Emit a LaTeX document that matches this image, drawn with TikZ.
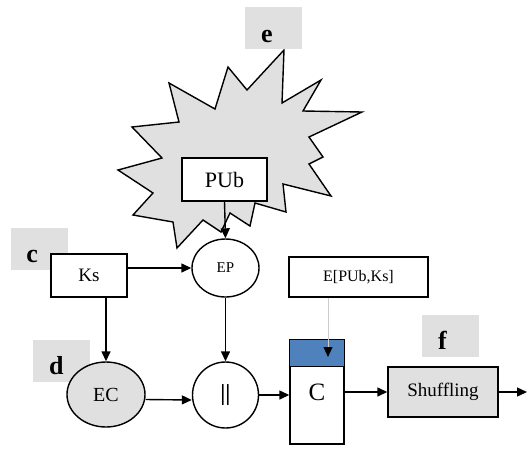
\documentclass[tikz,border=0pt]{standalone}
\usepackage{fontspec}
\setmainfont{Liberation Serif}
\usetikzlibrary{shapes.geometric,arrows.meta}

\definecolor{shade}{RGB}{224,224,224}
\definecolor{cblue}{RGB}{79,129,189}

\newcommand{\fs}[1]{\fontsize{#1}{#1}\selectfont}

\tikzset{
    box/.style={draw, line width=1.4pt, fill=white, inner sep=0pt},
    oval/.style={box, ellipse},
    tag/.style={fill=shade, inner xsep=16pt, inner ysep=7pt, text width=25pt,
        align=left, text height=28pt, text depth=0pt, font=\fs{26}\bfseries},
    link/.style={line width=1.4pt, -{Triangle[length=10pt,width=9pt]}}
}

\begin{document}
\begin{tikzpicture}[x=1pt, y=-1pt]
    \useasboundingbox (0,0) rectangle (528,448);

    % ギザギザの星形
    \filldraw[fill=shade, line width=1.4pt, line join=miter]
        plot coordinates {(284,50) (282,103) (321,80) (303,111) (362,112) (309,137)
            (323,157) (309,164) (331,196) (283,184) (286,212) (255,203) (250,226)
            (230,213) (221,232) (203,220) (177,248) (173,222) (133,215) (153,193)
            (118,170) (162,158) (132,127) (179,122) (169,83) (215,109) (228,67)
            (247,90)} -- cycle;

    \node[tag] (e) at (273.5,28) {e};
    \node[tag] (c) at (39,248.5) {c};
    \node[tag] (d) at (61.5,360.5) {d};
    \node[tag] (f) at (450.5,335.5) {f};

    \node[box, minimum width=85, minimum height=43, font=\fs{22}] (pub) at (224.5,179.5) {PUb};
    \node[box, minimum width=76, minimum height=43, font=\fs{19}] (ks) at (89,275.5) {Ks};
    \node[oval, minimum width=67, minimum height=58, font=\fs{15}] (ep) at (225.5,268) {EP};
    \node[oval, fill=shade, minimum width=78, minimum height=65, font=\fs{20}] (ec) at (106,394.5) {EC};
    \node[box, circle, minimum size=66, font=\fs{23}\bfseries] (par) at (225.5,395) {||};
    \node[box, minimum width=139, minimum height=40, font=\fs{16}] (ebox) at (358.5,277) {E[PUb,Ks]};
    \node[box, minimum width=54, minimum height=104, font=\fs{25}] (cc) at (317,392) {C};
    \node[box, fill=shade, minimum width=110, minimum height=50, font=\fs{19}] (shuf) at (443,392) {Shuffling};

    % 上の青い帯
    \filldraw[fill=cblue, line width=1.4pt] (cc.north west) rectangle ([yshift=-27pt]cc.north east);

    \coordinate (cin) at (328,357);
    \coordinate (out) at (527,392);

    \draw[link] (pub.south) -- (ep.north);
    \draw[link] (ks.east |- ep.west) -- (ep.west);
    \draw[link] (ks.south -| ec.north) -- (ec.north);
    \draw[link] (ep.south) -- (par.north);
    \draw[link] ([yshift=-5pt]ec.east) -- ([yshift=-5pt]par.west);
    \draw[link] (par.east) -- (par.east -| cc.west);
    \draw[link] (cc.east |- shuf.west) -- (shuf.west);
    \draw[link] (shuf.east) -- (out);
    \draw[gray!40, line width=0.8pt, -{Triangle[black,length=10pt,width=9pt]}] (ebox.south -| cin) -- (cin);
\end{tikzpicture}
\end{document}
